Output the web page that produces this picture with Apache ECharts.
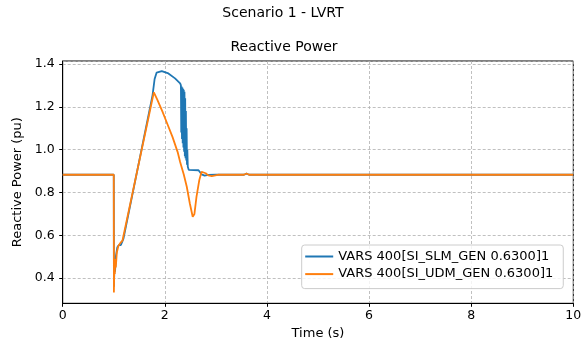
<!DOCTYPE html>
<html>
<head>
<meta charset="utf-8">
<script src="https://cdn.jsdelivr.net/npm/echarts@6/dist/echarts.min.js"></script>
<style>
  html, body { margin: 0; padding: 0; background: #fff; }
  #chart { width: 587px; height: 339px; }
</style>
</head>
<body>
<div id="chart"></div>
<script>
// time (s) and reactive power (pu)
var slmTime = [0, 1.0, 1.003, 1.015, 1.025, 1.04, 1.07, 1.10, 1.14, 1.17, 1.19, 1.76, 1.80, 1.84, 1.94, 2.07, 2.20, 2.30,
  2.315, 2.322, 2.329, 2.336, 2.343, 2.350, 2.357, 2.364, 2.371, 2.378, 2.385, 2.392, 2.399, 2.406, 2.413, 2.420, 2.427, 2.434, 2.441, 2.450,
  2.468, 2.66, 2.69, 2.72, 2.78, 2.85, 3.0, 3.55, 3.60, 3.65, 10];
var slmValue = [0.883, 0.883, 0.36, 0.47, 0.43, 0.50, 0.545, 0.555, 0.555, 0.55, 0.585, 1.255, 1.33, 1.36, 1.367, 1.356, 1.333, 1.31,
  1.30, 1.08, 1.295, 1.05, 1.29, 1.03, 1.285, 1.01, 1.28, 0.99, 1.27, 0.97, 1.24, 0.96, 1.18, 0.95, 1.10, 0.93, 1.00, 0.92,
  0.906, 0.904, 0.895, 0.885, 0.879, 0.882, 0.883, 0.883, 0.888, 0.883, 0.883];

var udmTime = [0, 1.0, 1.003, 1.012, 1.02, 1.03, 1.04, 1.06, 1.09, 1.13, 1.17, 1.785, 1.85, 1.95, 2.05, 2.15, 2.25, 2.30,
  2.37, 2.43, 2.49, 2.546, 2.58, 2.62, 2.675, 2.72, 2.755, 2.80, 2.85, 2.92, 3.04, 3.55, 3.60, 3.65, 10];
var udmValue = [0.883, 0.883, 0.333, 0.48, 0.42, 0.49, 0.45, 0.52, 0.55, 0.565, 0.575, 1.268, 1.235, 1.18, 1.12, 1.06, 0.99, 0.943,
  0.885, 0.827, 0.749, 0.687, 0.70, 0.78, 0.858, 0.897, 0.90, 0.89, 0.88, 0.877, 0.883, 0.883, 0.889, 0.883, 0.883];

var seriesNames = ["VARS 400[SI_SLM_GEN 0.6300]1", "VARS 400[SI_UDM_GEN 0.6300]1"];

function pairs(ts, vs) {
  return ts.map(function (t, i) { return [t, vs[i]]; });
}

var myChart = echarts.init(document.getElementById("chart"));
var gridLine = { show: true, lineStyle: { color: "#b0b0b0", width: 0.8, type: [3, 2] } };
var option = {
  animation: false,
  backgroundColor: "#fff",
  textStyle: { fontFamily: "DejaVu Sans" },
  graphic: [
    { type: "text", x: 283, y: 13, style: { text: "Scenario 1 - LVRT", font: "14px DejaVu Sans", fill: "#000", align: "center", verticalAlign: "middle" } },
    { type: "text", x: 284, y: 47.5, style: { text: "Reactive Power", font: "14px DejaVu Sans", fill: "#000", align: "center", verticalAlign: "middle" } },
  ],
  grid: {
    left: 62.7, right: 13.7, top: 61, bottom: 35.7,
    outerBoundsMode: "none",
    show: true, borderColor: "#000", borderWidth: 1,
  },
  legend: {
    orient: "vertical",
    left: 301.7, top: 245,
    padding: [5, 10, 8, 3.5],
    itemWidth: 28, itemHeight: 2, itemGap: 4.6, itemTextGap: 10,
    icon: "rect",
    backgroundColor: "rgba(255,255,255,0.8)",
    borderColor: "#cccccc", borderWidth: 1, borderRadius: 3,
    textStyle: { fontSize: 13, color: "#000", lineHeight: 13 },
    data: seriesNames,
  },
  xAxis: {
    type: "value",
    min: 0, max: 10, interval: 2,
    name: "Time (s)", nameLocation: "middle", nameGap: 24,
    nameTextStyle: { fontSize: 13, color: "#000", verticalAlign: "top" },
    axisLine: { show: true, lineStyle: { color: "#000", width: 1 } },
    axisTick: { show: true, length: 3.5, lineStyle: { color: "#000" } },
    axisLabel: { fontSize: 12.5, color: "#000", margin: 6 },
    splitLine: gridLine,
  },
  yAxis: {
    type: "value",
    min: 0.283, max: 1.414, splitNumber: 5,
    name: "Reactive Power (pu)", nameLocation: "middle", nameGap: 33,
    nameTextStyle: { fontSize: 13, color: "#000" },
    axisLine: { show: true, lineStyle: { color: "#000", width: 1 } },
    axisTick: { show: true, length: 3.5, lineStyle: { color: "#000" } },
    axisLabel: { fontSize: 12.5, color: "#000", margin: 8, showMinLabel: false, showMaxLabel: false,
      formatter: function (v) { return v.toFixed(1); } },
    splitLine: gridLine,
  },
  series: [
    {
      name: seriesNames[0], type: "line", data: pairs(slmTime, slmValue),
      showSymbol: false, symbol: "none", color: "#1f77b4",
      lineStyle: { width: 1.8, color: "#1f77b4" },
    },
    {
      name: seriesNames[1], type: "line", data: pairs(udmTime, udmValue),
      showSymbol: false, symbol: "none", color: "#ff7f0e",
      lineStyle: { width: 1.8, color: "#ff7f0e" },
    },
  ],
};
myChart.setOption(option);
</script>
</body>
</html>
